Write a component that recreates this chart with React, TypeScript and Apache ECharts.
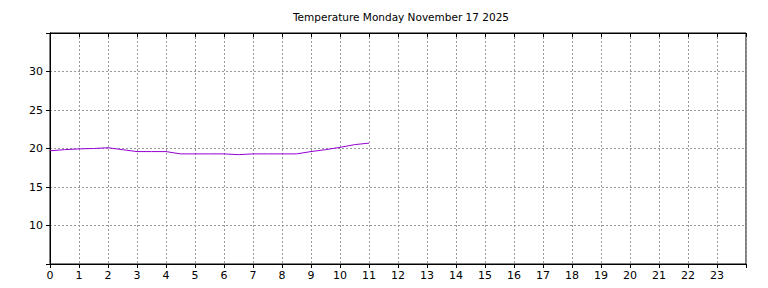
import React, { useEffect, useRef } from "react";
import * as echarts from "echarts";

const titleText = "Temperature Monday November 17 2025";
const hours = [0, 0.5, 1, 1.5, 2, 2.5, 3, 3.5, 4, 4.5, 5, 5.5, 6, 6.5, 7, 7.5, 8, 8.5, 9, 9.5, 10, 10.5, 11];
const temps = [19.7, 19.85, 19.95, 20.0, 20.1, 19.85, 19.6, 19.6, 19.6, 19.3, 19.3, 19.3, 19.3, 19.2, 19.3, 19.3, 19.3, 19.3, 19.6, 19.85, 20.15, 20.5, 20.7];
const yTicks = [10, 15, 20, 25, 30];

export default function App() {
  const ref = useRef<HTMLDivElement>(null);
  useEffect(() => {
    if (!ref.current) return;
    const chart = echarts.init(ref.current, null, { renderer: "svg" });
    const font = "DejaVu Sans";
    const grid = { left: 50, right: 22, top: 33, bottom: 24 };
    const dotted = { color: "#999999", width: 1, type: [2, 2] as number[] };
    chart.setOption({
      animation: false,
      backgroundColor: "#ffffff",
      title: {
        text: titleText,
        left: 396,
        top: 6,
        textAlign: "center",
        textStyle: { fontFamily: font, fontSize: 10.5, fontWeight: "normal", color: "#000" },
      },
      grid: { ...grid, show: true, borderColor: "#000", borderWidth: 1, backgroundColor: "transparent" },
      xAxis: [
        {
          type: "value",
          min: 0,
          max: 24,
          interval: 1,
          position: "bottom",
          axisLine: { show: true, lineStyle: { color: "#000", width: 1 } },
          axisTick: { show: true, inside: false, length: 4, lineStyle: { color: "#000" } },
          axisLabel: {
            fontFamily: font,
            fontSize: 11,
            color: "#000",
            margin: 6,
            formatter: (v: number) => (v >= 24 ? "" : String(v)),
          },
          splitLine: { show: true, lineStyle: dotted },
        },
        {
          type: "value",
          min: 0,
          max: 24,
          interval: 1,
          position: "top",
          axisLine: { show: true, lineStyle: { color: "#000", width: 1 } },
          axisTick: { show: true, inside: true, length: 4, lineStyle: { color: "#000" } },
          axisLabel: { show: false },
          splitLine: { show: false },
        },
      ],
      yAxis: [
        {
          type: "value",
          min: 5,
          max: 35,
          interval: 5,
          position: "left",
          axisLine: { show: true, lineStyle: { color: "#000", width: 1 } },
          axisTick: { show: true, inside: false, length: 4, lineStyle: { color: "#000" } },
          axisLabel: {
            fontFamily: font,
            fontSize: 11,
            color: "#000",
            margin: 7,
            formatter: (v: number) => (yTicks.includes(v) ? String(v) : ""),
          },
          splitLine: { show: true, lineStyle: dotted },
        },
        {
          type: "value",
          min: 5,
          max: 35,
          interval: 5,
          position: "right",
          axisLine: { show: true, lineStyle: { color: "#000", width: 1 } },
          axisTick: { show: true, inside: true, length: 4, lineStyle: { color: "#000" } },
          axisLabel: { show: false },
          splitLine: { show: false },
        },
      ],
      series: [
        {
          type: "line",
          data: hours.map((h, i) => [h, temps[i]]),
          xAxisIndex: 0,
          yAxisIndex: 0,
          showSymbol: false,
          symbol: "none",
          lineStyle: { color: "#9400D3", width: 1 },
        },
      ],
    });
    return () => chart.dispose();
  }, []);
  return <div ref={ref} style={{ width: 768, height: 288, position: "absolute", left: 0, top: 0 }} />;
}
